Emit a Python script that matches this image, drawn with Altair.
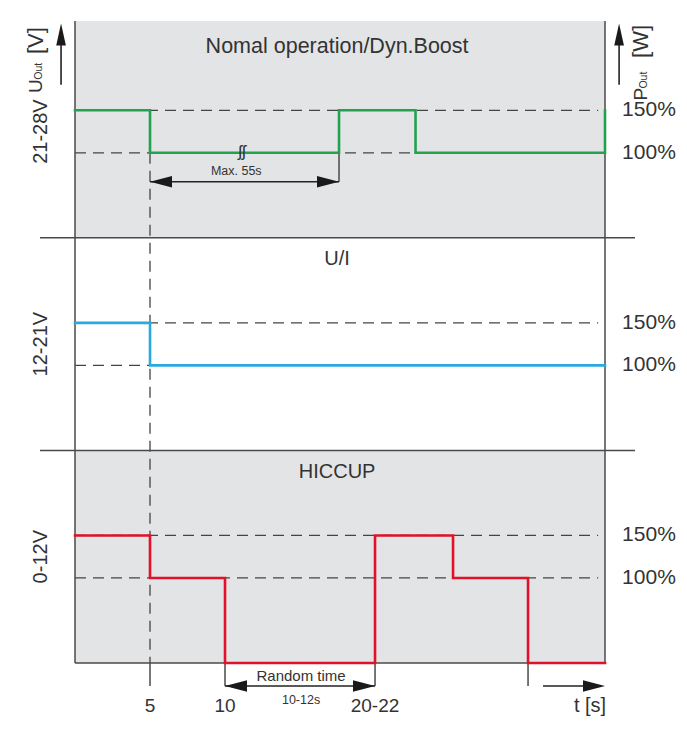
import altair as alt
import pandas as pd

# ---------------- values ----------------
T_END = 35.33          # right edge of the time axis (drawing scale, s)
V_TOP = 755            # top of the stacked panels (offset units)

panel_titles  = ["Nomal operation/Dyn.Boost", "U/I", "HICCUP"]
panel_offsets = [500, 250, 0]          # each panel 250 units tall, 0 % at its bottom
panel_tops    = [755, 500, 250]
panel_ranges  = ["21-28V", "12-21V", "0-12V"]
panel_shaded  = [True, False, True]

levels       = [150, 100]
level_labels = ["150%", "100%"]

# step signals: change points (time, P_out in %)
green_t = [0, 5, 17.6, 22.7, 35.33]
green_p = [150, 100, 150, 100, 150]
blue_t  = [0, 5, 35.33]
blue_p  = [150, 100, 100]
red_t   = [0, 5, 10, 20, 25.2, 30.2, 35.33]
red_p   = [150, 100, 0, 150, 100, 0, 0]

tick_t      = [5, 10, 20, 30.2]
tick_labels = ["5", "10", "20-22", ""]

# annotation anchors (time, offset units)
max55_t, max55_v = [5, 17.6], 566
rand_t, rand_v = [10, 20], -27
tarrow_t = [31.2, 35.33]
uarrow_t, parrow_t, arrow_v = -0.93, 36.27, [680, 752]

# ---------------- styling ----------------
FONT = "Liberation Sans"
TXT = "#333333"
FRAME = "#4a4a4a"
GREEN, BLUE, RED = "#22a24f", "#2aa8e0", "#e3102a"
FILL = "#e3e4e6"

xs = alt.Scale(domain=[0, T_END], nice=False, zero=False)
ys = alt.Scale(domain=[0, V_TOP], nice=False, zero=False)


def X(f):
    return alt.X(f, type="quantitative", scale=xs, axis=None)


def Y(f):
    return alt.Y(f, type="quantitative", scale=ys, axis=None)


# panel backgrounds
rects = pd.DataFrame({
    "t": [0] * 3, "t2": [T_END] * 3,
    "v": panel_offsets, "v2": panel_tops, "shaded": panel_shaded,
})
rects = rects[rects.shaded]
bg = alt.Chart(rects).mark_rect(color=FILL).encode(
    x=X("t"), x2="t2", y=Y("v"), y2="v2")

# dashed reference lines
dash_rows = []
for off in panel_offsets:
    for lv in levels:
        dash_rows.append({"t": 0, "t2": 34.87, "v": off + lv, "v2": off + lv})
dash_rows.append({"t": 5, "t2": 5, "v": 600, "v2": 0})
dashed = alt.Chart(pd.DataFrame(dash_rows)).mark_rule(
    color="#444444", strokeWidth=1.3, strokeDash=[11, 7]).encode(
    x=X("t"), x2="t2", y=Y("v"), y2="v2")

# frame lines
frame_rows = [
    {"t": 0, "t2": 0, "v": 0, "v2": V_TOP},
    {"t": T_END, "t2": T_END, "v": 0, "v2": V_TOP},
    {"t": 0, "t2": T_END, "v": 0, "v2": 0},
    {"t": -2.33, "t2": 37.33, "v": 250, "v2": 250},
    {"t": -2.33, "t2": 37.33, "v": 500, "v2": 500},
]
for tt in tick_t:
    frame_rows.append({"t": tt, "t2": tt, "v": 0, "v2": -27})
frame_rows.append({"t": max55_t[1], "t2": max55_t[1], "v": 600, "v2": max55_v})
frame = alt.Chart(pd.DataFrame(frame_rows)).mark_rule(
    color=FRAME, strokeWidth=1.5).encode(
    x=X("t"), x2="t2", y=Y("v"), y2="v2")

# arrow shafts
shaft_rows = [
    {"t": max55_t[0], "t2": max55_t[1], "v": max55_v, "v2": max55_v},
    {"t": rand_t[0], "t2": rand_t[1], "v": rand_v, "v2": rand_v},
    {"t": tarrow_t[0], "t2": tarrow_t[1] - 0.5, "v": rand_v, "v2": rand_v},
    {"t": uarrow_t, "t2": uarrow_t, "v": arrow_v[0], "v2": arrow_v[1] - 5},
    {"t": parrow_t, "t2": parrow_t, "v": arrow_v[0], "v2": arrow_v[1] - 5},
]
shafts = alt.Chart(pd.DataFrame(shaft_rows)).mark_rule(
    color="#222222", strokeWidth=1.6).encode(
    x=X("t"), x2="t2", y=Y("v"), y2="v2")

# arrow heads
HEAD_R = "M0,0L-1,-0.26L-1,0.26Z"
HEAD_L = "M0,0L1,-0.26L1,0.26Z"
HEAD_U = "M0,0L-0.22,1L0.22,1Z"


def heads(rows, shape):
    return alt.Chart(pd.DataFrame(rows)).mark_point(
        shape=shape, filled=True, size=1936, color="#1a1a1a",
        opacity=1, strokeWidth=0).encode(x=X("t"), y=Y("v"))


heads_r = heads([{"t": max55_t[1], "v": max55_v}, {"t": rand_t[1], "v": rand_v},
                 {"t": tarrow_t[1], "v": rand_v}], HEAD_R)
heads_l = heads([{"t": max55_t[0], "v": max55_v}, {"t": rand_t[0], "v": rand_v}], HEAD_L)
heads_u = heads([{"t": uarrow_t, "v": arrow_v[1]}, {"t": parrow_t, "v": arrow_v[1]}], HEAD_U)


# signals
def signal(ts, ps, off, color):
    df = pd.DataFrame({"t": ts, "v": [off + p for p in ps]})
    return alt.Chart(df).mark_line(
        interpolate="step-after", color=color, strokeWidth=2.6,
        strokeJoin="miter", strokeCap="square").encode(x=X("t"), y=Y("v"))


green = signal(green_t, green_p, panel_offsets[0], GREEN)
blue = signal(blue_t, blue_p, panel_offsets[1], BLUE)
red = signal(red_t, red_p, panel_offsets[2], RED)

# centred texts
title_sizes = [21.5, 20, 20]
ct = []
for title, off, fs in zip(panel_titles, panel_offsets, title_sizes):
    ct.append({"t": 17.47, "v": off + 225, "label": title, "fs": fs, "ang": 0})
for rng, off in zip(panel_ranges, panel_offsets):
    ct.append({"t": -2.27, "v": off + 125, "label": rng, "fs": 20, "ang": 270})
for tt, lab in zip(tick_t, tick_labels):
    if lab:
        ct.append({"t": tt, "v": -50.5, "label": lab, "fs": 19, "ang": 0})
ct += [
    {"t": 34.33, "v": -50.5, "label": "t [s]", "fs": 20, "ang": 0},
    {"t": 10.75, "v": 579, "label": "Max. 55s", "fs": 12.5, "ang": 0},
    {"t": 11.13, "v": 601, "label": "ʃʃ", "fs": 17, "ang": 0},
    {"t": 15.07, "v": -15, "label": "Random time", "fs": 15, "ang": 0},
    {"t": 15.07, "v": -43.5, "label": "10-12s", "fs": 12.5, "ang": 0},
    {"t": -2.6, "v": 678.5, "label": "U", "fs": 19, "ang": 270},
    {"t": -2.4, "v": 696, "label": "Out", "fs": 10.5, "ang": 270},
    {"t": -2.6, "v": 732, "label": "[V]", "fs": 22, "ang": 270},
    {"t": 37.73, "v": 669, "label": "P", "fs": 19, "ang": 270},
    {"t": 37.93, "v": 685.5, "label": "Out", "fs": 10.5, "ang": 270},
    {"t": 37.73, "v": 731, "label": "[W]", "fs": 22, "ang": 270},
]
texts_c = alt.Chart(pd.DataFrame(ct)).mark_text(
    align="center", baseline="middle", font=FONT, color=TXT).encode(
    x=X("t"), y=Y("v"), text="label:N",
    size=alt.Size("fs:Q", scale=None), angle=alt.Angle("ang:Q", scale=None))

lt = []
for off in panel_offsets:
    for lv, lab in zip(levels, level_labels):
        lt.append({"t": 36.47, "v": off + lv, "label": lab})
texts_l = alt.Chart(pd.DataFrame(lt)).mark_text(
    align="left", baseline="middle", font=FONT, color=TXT, fontSize=21).encode(
    x=X("t"), y=Y("v"), text="label:N")

chart = alt.layer(
    bg, dashed, frame, green, blue, red, shafts, heads_r, heads_l, heads_u,
    texts_c, texts_l,
).properties(
    width=530, height=642,
    autosize=alt.AutoSizeParams(type="none"),
    padding={"left": 67, "top": 13, "right": 74, "bottom": 55},
    background="white",
).configure_view(stroke=None)

chart.save("out.html", embed_options={"renderer": "svg", "actions": False})
